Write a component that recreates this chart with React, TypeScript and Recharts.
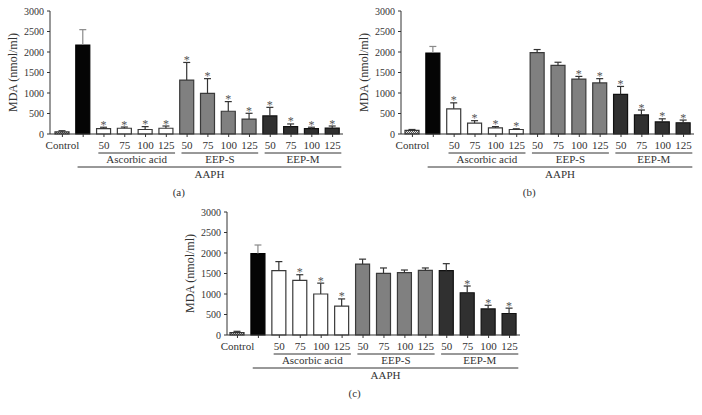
import { BarChart, Bar, XAxis, YAxis, Cell, LabelList } from "recharts";

const FONT = "'Liberation Serif', 'Times New Roman', serif";
const INK = "#333";

// categories along the x axis (one per bar)
const categories = [
  "Control", "AAPH",
  "AA50", "AA75", "AA100", "AA125",
  "S50", "S75", "S100", "S125",
  "M50", "M75", "M100", "M125",
];
const tickLabels = [
  "Control", "",
  "50", "75", "100", "125",
  "50", "75", "100", "125",
  "50", "75", "100", "125",
];
const groupOf = [
  "control", "aaph",
  "aa", "aa", "aa", "aa",
  "eeps", "eeps", "eeps", "eeps",
  "eepm", "eepm", "eepm", "eepm",
];
const groupNames: Record<string, string> = {
  aa: "Ascorbic acid",
  eeps: "EEP-S",
  eepm: "EEP-M",
};
const yTicks = [0, 500, 1000, 1500, 2000, 2500, 3000];

// (a)
const meanA = [50, 2170, 130, 140, 110, 140, 1315, 990, 555, 365, 440, 180, 130, 145];
const errA = [30, 375, 35, 30, 70, 55, 430, 360, 235, 140, 210, 65, 35, 50];
const sigA = [0, 0, 1, 1, 1, 1, 1, 1, 1, 1, 1, 1, 1, 1];

// (b)
const meanB = [90, 1975, 615, 265, 150, 110, 1985, 1675, 1340, 1245, 965, 465, 295, 275];
const errB = [20, 160, 145, 60, 30, 18, 75, 75, 65, 105, 195, 120, 75, 65];
const sigB = [0, 0, 1, 1, 1, 1, 0, 0, 1, 1, 1, 1, 1, 1];

// (c)
const meanC = [60, 1985, 1570, 1330, 1000, 705, 1730, 1505, 1520, 1575, 1570, 1030, 635, 525];
const errC = [30, 210, 220, 140, 265, 175, 120, 130, 65, 60, 170, 165, 90, 130];
const sigC = [0, 0, 0, 1, 1, 1, 0, 0, 0, 0, 0, 1, 1, 1];

const fills: Record<string, string> = {
  aaph: "#050505",
  aa: "#ffffff",
  eeps: "#808080",
  eepm: "#303030",
};
const strokes: Record<string, string> = {
  control: "#333",
  aaph: "#000",
  aa: "#3a3a3a",
  eeps: "#3a3a3a",
  eepm: "#111",
};

const Whisker = (props: any) => {
  const { x, y, width, height, payload } = props;
  if (x == null || y == null) return null;
  const cx = x + width / 2;
  const color = payload && payload.group === "aaph" ? "#8a8a8a" : "#333";
  return (
    <g>
      <line x1={cx} y1={y + height} x2={cx} y2={y} stroke={color} strokeWidth={1.2} />
      <line x1={cx - 3.5} y1={y} x2={cx + 3.5} y2={y} stroke={color} strokeWidth={1.2} />
    </g>
  );
};

const Star = (props: any) => {
  const { value } = props;
  const vb = props.viewBox || props;
  if (!value) return null;
  const cx = vb.x + vb.width / 2;
  return (
    <text x={cx} y={vb.y + 1.5} textAnchor="middle" fontSize={12} fill="#555" fontFamily={FONT}>
      *
    </text>
  );
};

const YTitle = (props: any) => {
  const vb = props.viewBox || { x: 0, y: 11, width: 50, height: 123 };
  const cx = vb.x + 13;
  const cy = vb.y + vb.height / 2;
  return (
    <text
      x={cx}
      y={cy}
      transform={`rotate(-90 ${cx} ${cy})`}
      textAnchor="middle"
      dominantBaseline="central"
      fontSize={12}
      fill={INK}
      fontFamily={FONT}
    >
      MDA (nmol/ml)
    </text>
  );
};

const makeTick = (tag: string) => (props: any) => {
  const { x, y, payload } = props;
  const i = payload.index;
  const band = payload.offset ? payload.offset * 2 : 20.8;
  const g = groupOf[i];
  const first = i === 0 || groupOf[i - 1] !== g;
  const parts: any[] = [];
  parts.push(
    <text key="t" x={x} y={y + 10} textAnchor="middle" fontSize={11} fill={INK} fontFamily={FONT}>
      {tickLabels[i]}
    </text>
  );
  if (first && groupNames[g]) {
    const x1 = x - band * 0.27;
    const x2 = x + band * 3.42;
    parts.push(<line key="gl" x1={x1} x2={x2} y1={y + 14} y2={y + 14} stroke={INK} strokeWidth={1} />);
    parts.push(
      <text key="gt" x={(x1 + x2) / 2} y={y + 24} textAnchor="middle" fontSize={11} fill={INK} fontFamily={FONT}>
        {groupNames[g]}
      </text>
    );
  }
  if (g === "aaph") {
    const x1 = x - band * 0.27;
    const x2 = x + band * 12.42;
    parts.push(<line key="al" x1={x1} x2={x2} y1={y + 28} y2={y + 28} stroke={INK} strokeWidth={1} />);
    parts.push(
      <text key="at" x={(x1 + x2) / 2} y={y + 39} textAnchor="middle" fontSize={11} fill={INK} fontFamily={FONT}>
        AAPH
      </text>
    );
  }
  if (g === "control") {
    parts.push(
      <text key="tag" x={x + band * 5.6} y={y + 57} textAnchor="middle" fontSize={11} fill={INK} fontFamily={FONT}>
        {tag}
      </text>
    );
  }
  return <g>{parts}</g>;
};

function Panel({
  means,
  errs,
  sig,
  tag,
  left,
  top,
  padLeft,
}: {
  means: number[];
  errs: number[];
  sig: number[];
  tag: string;
  left: number;
  top: number;
  padLeft: number;
}) {
  const data = categories.map((key, i) => ({
    key,
    group: groupOf[i],
    mean: means[i],
    err: errs[i],
    sig: sig[i],
  }));
  const pid = `dots-${tag.replace(/\W/g, "")}`;
  return (
    <div style={{ position: "absolute", left, top }}>
      <BarChart
        width={350}
        height={200}
        data={data}
        margin={{ top: 11, right: 7, bottom: 0, left: 0 }}
      >
        <defs>
          <pattern id={pid} width={2} height={2} patternUnits="userSpaceOnUse">
            <rect width={2} height={2} fill="#e2e2e2" />
            <rect width={1} height={1} fill="#555" />
            <rect x={1} y={1} width={1} height={1} fill="#555" />
          </pattern>
        </defs>
        <XAxis
          dataKey="key"
          height={66}
          interval={0}
          padding={{ left: padLeft, right: 0 }}
          tickSize={3}
          axisLine={{ stroke: INK }}
          tickLine={{ stroke: INK }}
          tick={makeTick(tag)}
        />
        <YAxis
          width={50}
          domain={[0, 3000]}
          ticks={yTicks}
          interval={0}
          tickSize={3}
          tickMargin={3}
          axisLine={{ stroke: INK }}
          tickLine={{ stroke: INK }}
          tick={{ fontSize: 10, fill: INK, fontFamily: FONT }}
          label={<YTitle />}
        />
        <Bar dataKey="mean" stackId="s" barSize={14} isAnimationActive={false}>
          {data.map((d, i) => (
            <Cell
              key={i}
              fill={d.group === "control" ? `url(#${pid})` : fills[d.group]}
              stroke={strokes[d.group]}
              strokeWidth={1.2}
            />
          ))}
        </Bar>
        <Bar dataKey="err" stackId="s" barSize={14} isAnimationActive={false} shape={<Whisker />}>
          <LabelList dataKey="sig" content={<Star />} />
        </Bar>
      </BarChart>
    </div>
  );
}

export default function App() {
  return (
    <div
      style={{
        position: "absolute",
        left: 0,
        top: 0,
        width: 702,
        height: 415,
        background: "#fff",
        fontFamily: FONT,
      }}
    >
      <Panel means={meanA} errs={errA} sig={sigA} tag="(a)" left={0} top={0} padLeft={2} />
      <Panel means={meanB} errs={errB} sig={sigB} tag="(b)" left={351} top={0} padLeft={1} />
      <Panel means={meanC} errs={errC} sig={sigC} tag="(c)" left={177} top={201} padLeft={0} />
    </div>
  );
}
